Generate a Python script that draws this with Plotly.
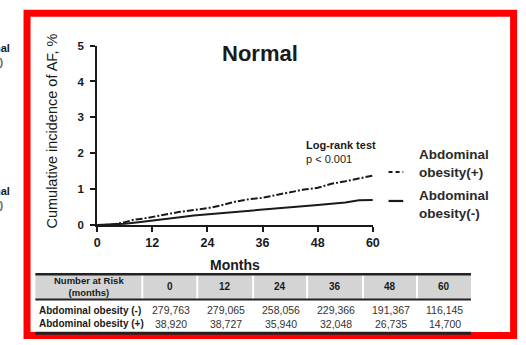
import plotly.graph_objects as go

# Kaplan-Meier style cumulative incidence (%) by month
months_pos = [0, 3, 6, 8, 10, 12, 15, 18, 21, 24, 27, 30, 33, 36, 39, 42, 45, 48, 51, 54, 57, 60]
inc_pos = [0, 0.01, 0.08, 0.15, 0.18, 0.23, 0.30, 0.37, 0.42, 0.47, 0.55, 0.65, 0.72, 0.76,
           0.84, 0.92, 0.99, 1.04, 1.15, 1.22, 1.30, 1.38]
months_neg = [0, 3, 6, 9, 12, 15, 18, 21, 24, 30, 36, 42, 48, 54, 57, 60]
inc_neg = [0, 0.01, 0.04, 0.08, 0.12, 0.17, 0.22, 0.27, 0.30, 0.36, 0.42, 0.49, 0.56, 0.63, 0.69, 0.70]

x_ticks = [0, 12, 24, 36, 48, 60]
y_ticks = [0, 1, 2, 3, 4, 5]

# Number-at-risk table
risk_header = ["0", "12", "24", "36", "48", "60"]
risk_rows = ["Abdominal obesity (-)", "Abdominal obesity (+)"]
risk_neg = ["279,763", "279,065", "258,056", "229,366", "191,367", "116,145"]
risk_pos = ["38,920", "38,727", "35,940", "32,048", "26,735", "14,700"]

W, H = 526, 345
FONT = "Liberation Sans, Arial, sans-serif"
INK = "#1a1a1a"


def px(x):
    return x / W


def py(y):
    return 1 - y / H


def label(text, x, y, size, color=INK, xanchor="center", align="center", **kw):
    return dict(text=text, x=px(x), y=py(y), xref="paper", yref="paper", showarrow=False,
                xanchor=xanchor, yanchor="middle", align=align,
                font=dict(family=FONT, size=size, color=color), **kw)


fig = go.Figure()
fig.add_trace(go.Scatter(x=months_neg, y=inc_neg, mode="lines",
                         line=dict(color=INK, width=2), showlegend=False))
fig.add_trace(go.Scatter(x=months_pos, y=inc_pos, mode="lines",
                         line=dict(color=INK, width=2, dash="7px,2px,2px,2px"), showlegend=False))

shapes = []
ann = []

# outer red frame
shapes.append(dict(type="rect", xref="paper", yref="paper",
                   x0=px(24.5), x1=px(520.5), y0=py(341.5), y1=py(7.5),
                   line=dict(color="#ff0000", width=7), fillcolor="rgba(0,0,0,0)"))

# title and axis title
ann.append(label("<b>Normal</b>", 262, 49, 22))
ann.append(label("Cumulative incidence of AF, %", 50, 130, 14.5, textangle=-90))
ann.append(label("<b>Months</b>", 237, 268, 14))

# log-rank annotation
ann.append(label("<b>Log-rank test</b><br>p < 0.001", 307, 151, 11, xanchor="left", align="left"))

# legend, drawn beside the curves
for y_text, y_mark, text, dash in [(163, 172, "Abdominal<br>obesity(+)", "4px,3px"),
                                   (206, 202, "Abdominal<br>obesity(-)", "solid")]:
    shapes.append(dict(type="line", xref="paper", yref="paper",
                       x0=px(393), x1=px(408), y0=py(y_mark), y1=py(y_mark),
                       line=dict(color=INK, width=2.2, dash=dash)))
    ann.append(label("<b>" + text.replace("<br>", "</b><br><b>") + "</b>", 422, y_text, 13.5,
                     color="#2a2a2a", xanchor="left", align="left"))

# edge of the neighbouring panel's legend, cut by the left border
for y0 in [44, 192]:
    ann.append(label("<b>Abdominal</b>", 9, y0, 11, xanchor="right", align="right"))
    ann.append(label("<b>obesity(+)</b>", 3, y0 + 14, 11, color="#666666",
                     xanchor="right", align="right"))

# table geometry
t_left, t_right = 33, 477
col_edges = [142, 198, 255, 310, 367, 422, 477]
col_centers = [(col_edges[i] + col_edges[i + 1]) / 2 for i in range(6)]
y_top, y_head, y_bot = 278, 304, 339

shapes.append(dict(type="rect", xref="paper", yref="paper", x0=px(t_left), x1=px(t_right),
                   y0=py(y_head), y1=py(y_top), fillcolor="#d4d4d4", line=dict(width=0), layer="below"))
for xe in col_edges[:-1]:
    shapes.append(dict(type="line", xref="paper", yref="paper", x0=px(xe), x1=px(xe),
                       y0=py(y_head), y1=py(y_top), line=dict(color="white", width=2)))
for yy, wd in [(y_top, 2.5), (y_head, 2), (y_bot, 3)]:
    shapes.append(dict(type="line", xref="paper", yref="paper", x0=px(t_left), x1=px(t_right),
                       y0=py(yy), y1=py(yy), line=dict(color="#222222", width=wd)))

ann.append(label("<b>Number at Risk</b><br><b>(months)</b>", 88, 291, 9.5))
for xc, h in zip(col_centers, risk_header):
    ann.append(label("<b>" + h + "</b>", xc, 291, 10))
for row_y, row_name, vals in [(315, risk_rows[0], risk_neg), (329, risk_rows[1], risk_pos)]:
    ann.append(label("<b>" + row_name + "</b>", 35, row_y, 10, xanchor="left", align="left"))
    for xc, v in zip(col_centers, vals):
        ann.append(label(v, xc + 1, row_y, 10.5, color="#333333"))

fig.update_layout(
    width=W, height=H,
    margin=dict(l=0, r=0, t=0, b=0),
    paper_bgcolor="white", plot_bgcolor="white",
    xaxis=dict(domain=[px(96), px(377)], range=[0, 60], tickvals=x_ticks,
               ticktext=["<b>%d</b>" % v for v in x_ticks],
               showline=True, linecolor=INK, linewidth=2, ticks="outside", ticklen=5,
               tickwidth=2, tickcolor=INK, showgrid=False, zeroline=False,
               tickfont=dict(family=FONT, size=12.5, color=INK)),
    yaxis=dict(domain=[py(227), py(41)], range=[0, 5], tickvals=y_ticks,
               ticktext=["<b>%d</b>" % v for v in y_ticks],
               showline=True, linecolor=INK, linewidth=2, ticks="outside", ticklen=5,
               tickwidth=2, tickcolor=INK, showgrid=False, zeroline=False,
               ticklabelstandoff=4,
               tickfont=dict(family=FONT, size=11.5, color=INK)),
    shapes=shapes, annotations=ann,
)

fig.write_html("out.html")
